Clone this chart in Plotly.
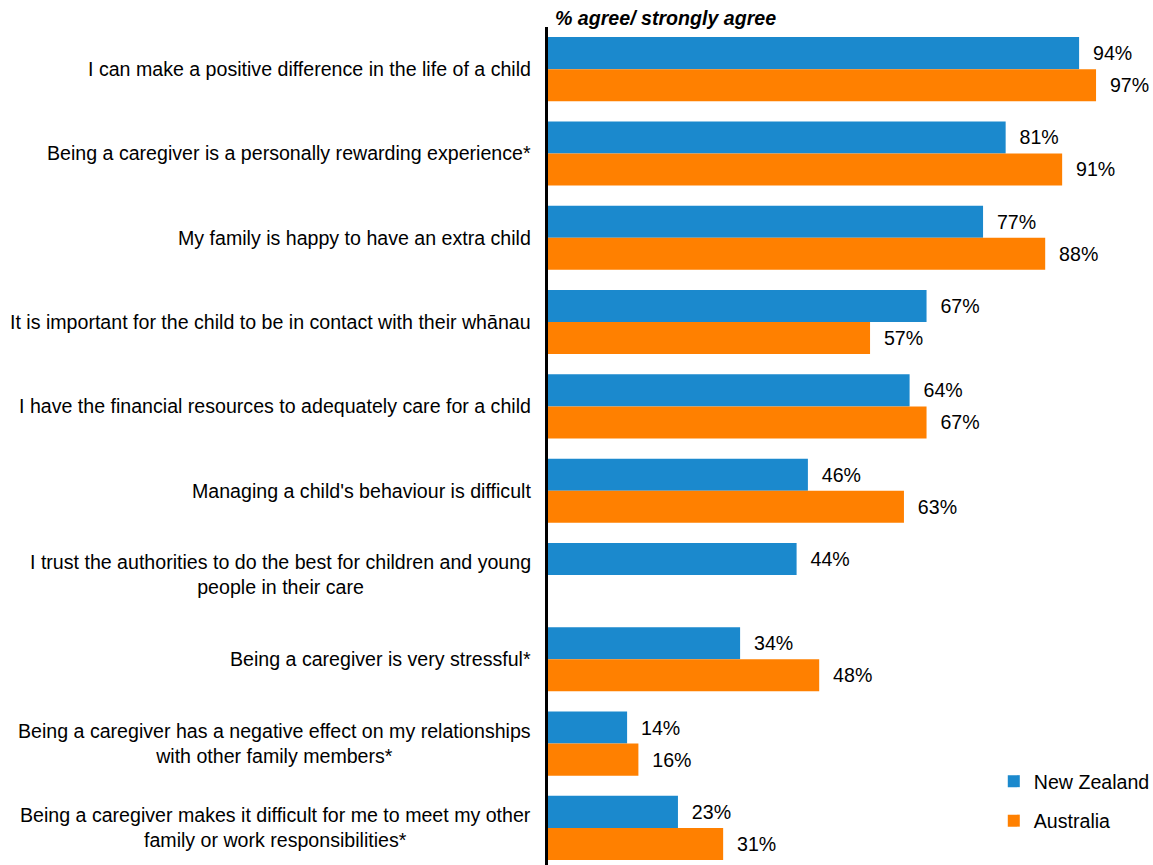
import plotly.graph_objects as go

# Survey statements (top to bottom) and % agree / strongly agree by country
statements = [
    "I can make a positive difference in the life of a child",
    "Being a caregiver is a personally rewarding experience*",
    "My family is happy to have an extra child",
    "It is important for the child to be in contact with their whānau",
    "I have the financial resources to adequately care for a child",
    "Managing a child's behaviour is difficult",
    "I trust the authorities to do the best for children and young<br>people in their care",
    "Being a caregiver is very stressful*",
    "Being a caregiver has a negative effect on my relationships<br>with other family members*",
    "Being a caregiver makes it difficult for me to meet my other<br>family or work responsibilities*",
]
nz_values = [94, 81, 77, 67, 64, 46, 44, 34, 14, 23]
au_values = [97, 91, 88, 57, 67, 63, None, 48, 16, 31]

series_names = ["New Zealand", "Australia"]
series_colors = ["#1B89CD", "#FF8000"]
axis_title = "% agree/ strongly agree"

FONT = "Liberation Sans, Arial, sans-serif"
FSIZE = 19.6
NBSP = "\u00a0"


def value_text(vals):
    return [f"{NBSP}{NBSP}{v}%" if v is not None else "" for v in vals]


fig = go.Figure()
for name, vals, color in zip(series_names, [nz_values, au_values], series_colors):
    fig.add_trace(go.Bar(
        y=statements,
        x=vals,
        orientation="h",
        name=name,
        legendgroup=name,
        marker=dict(color=color, line=dict(width=0)),
        text=value_text(vals),
        textposition="outside",
        textfont=dict(family=FONT, size=FSIZE, color="#000000"),
        cliponaxis=False,
        hoverinfo="skip",
    ))

# Category labels: right-anchored block, multi-line labels centred within it
for s in statements:
    fig.add_annotation(
        x=0, xref="paper", y=s, yref="y",
        text=s, showarrow=False,
        xanchor="right", yanchor="middle", align="center",
        xshift=-15,
        font=dict(family=FONT, size=FSIZE, color="#000000"),
    )

fig.add_annotation(
    x=0, xref="paper", y=1, yref="paper",
    text=f"<b><i>{axis_title}</i></b>", showarrow=False,
    xanchor="left", yanchor="bottom", xshift=5, yshift=-4,
    font=dict(family=FONT, size=FSIZE, color="#000000"),
)

fig.update_layout(
    width=1153, height=865,
    margin=dict(l=548, r=40, t=27, b=0, pad=0, autoexpand=False),
    paper_bgcolor="white", plot_bgcolor="white",
    barmode="group", bargap=0.24, bargroupgap=0,
    showlegend=True,
    legend=dict(
        x=0.789, y=0.123, xanchor="left", yanchor="top",
        font=dict(family=FONT, size=FSIZE, color="#000000"),
        traceorder="grouped", tracegroupgap=11,
        bgcolor="rgba(0,0,0,0)", itemwidth=30,
    ),
    xaxis=dict(range=[0, 100], showgrid=False, zeroline=False,
               showticklabels=False, ticks="", showline=False),
    yaxis=dict(type="category", categoryorder="array", categoryarray=statements,
               range=[9.44, -0.5], showgrid=False, zeroline=False,
               showticklabels=False, ticks="",
               showline=True, linecolor="#000000", linewidth=3),
)

fig.write_html("out.html")
